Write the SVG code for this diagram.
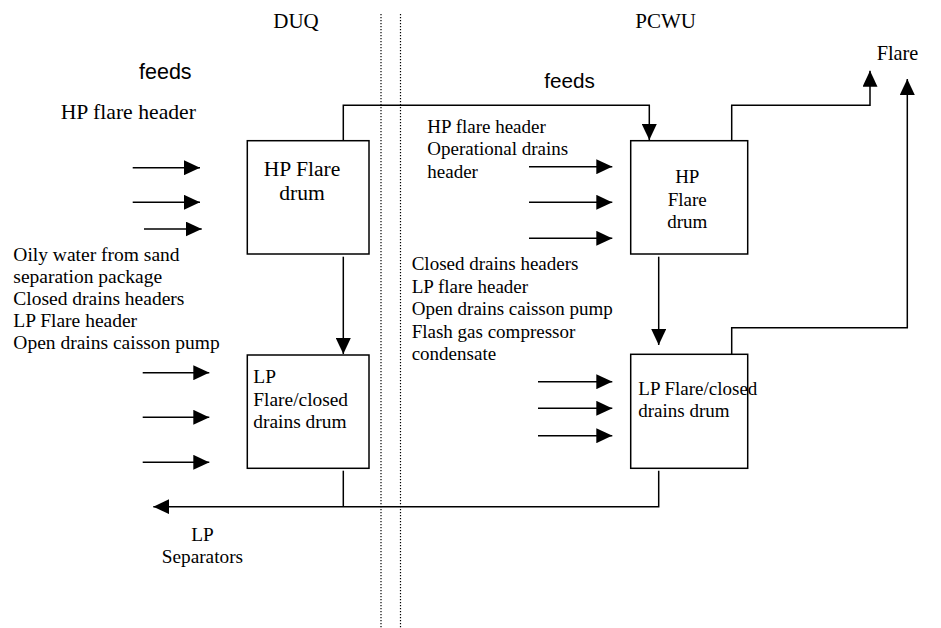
<svg xmlns="http://www.w3.org/2000/svg" width="941" height="628" viewBox="0 0 941 628">
<style>
.t{font-family:"Liberation Serif","Times New Roman",serif;fill:#000}
.s{font-family:"Liberation Sans",Arial,sans-serif;fill:#000}
.box{fill:#fff;stroke:#000;stroke-width:1.5}
.ln{fill:none;stroke:#000;stroke-width:1.5}
.dot{fill:none;stroke:#000;stroke-width:1.2;stroke-dasharray:1.2 1.8}
</style>
<defs>
<marker id="ah" viewBox="0 0 16 15" refX="16" refY="7.5" markerWidth="16" markerHeight="15" markerUnits="userSpaceOnUse" orient="auto">
<path d="M0,0 L16,7.5 L0,15 z" fill="#000"/>
</marker>
</defs>
<rect width="941" height="628" fill="#fff"/>
<g id="boundary">
<line class="dot" x1="381" y1="14" x2="381" y2="628"/>
<line class="dot" x1="400.5" y1="14" x2="400.5" y2="628"/>
</g>
<g id="labels">
<text class="t" x="296" y="28" font-size="21" text-anchor="middle">DUQ</text>
<text class="t" x="665.7" y="28.3" font-size="21" text-anchor="middle">PCWU</text>
<text class="s" x="139" y="79" font-size="21.5">feeds</text>
<text class="s" x="544.3" y="88.3" font-size="20.7">feeds</text>
<text class="t" x="876.7" y="60" font-size="20.3">Flare</text>
<text class="t" x="60.7" y="119" font-size="21.7">HP flare header</text>
<g class="t" font-size="19.5">
<text x="13.3" y="260.5">Oily water from sand</text>
<text x="13.3" y="282.7">separation package</text>
<text x="13.3" y="304.8">Closed drains headers</text>
<text x="13.3" y="327">LP Flare header</text>
<text x="13.3" y="349.1">Open drains caisson pump</text>
</g>
<g class="t" font-size="19">
<text x="427.3" y="132.7">HP flare header</text>
<text x="427.3" y="155.2">Operational drains</text>
<text x="427.3" y="177.7">header</text>
</g>
<g class="t" font-size="19">
<text x="411.7" y="270.3">Closed drains headers</text>
<text x="411.7" y="292.8">LP flare header</text>
<text x="411.7" y="315.3">Open drains caisson pump</text>
<text x="411.7" y="337.8">Flash gas compressor</text>
<text x="411.7" y="360.3">condensate</text>
</g>
<g class="t" font-size="19.3" text-anchor="middle">
<text x="202.4" y="540.7">LP</text>
<text x="202.4" y="563.3">Separators</text>
</g>
</g>
<g id="duq-hp-drum">
<rect class="box" x="247.3" y="140.7" width="121.7" height="113.3"/>
<text class="t" font-size="21.6" text-anchor="middle"><tspan x="302" y="175.7">HP Flare</tspan><tspan x="302" y="200">drum</tspan></text>
</g>
<g id="duq-lp-drum">
<rect class="box" x="247.3" y="355" width="121.7" height="113.3"/>
<text class="t" font-size="19.4"><tspan x="253.3" y="383.3">LP</tspan><tspan x="253.3" y="406">Flare/closed</tspan><tspan x="253.3" y="428.3">drains drum</tspan></text>
</g>
<g id="pcwu-hp-drum">
<rect class="box" x="630.7" y="140.7" width="117" height="113.3"/>
<text class="t" font-size="19" text-anchor="middle"><tspan x="687.3" y="183.3">HP</tspan><tspan x="687.3" y="205.5">Flare</tspan><tspan x="687.3" y="227.7">drum</tspan></text>
</g>
<g id="pcwu-lp-drum">
<rect class="box" x="630.7" y="354.3" width="117" height="114"/>
<text class="t" font-size="19"><tspan x="638.3" y="395">LP Flare/closed</tspan><tspan x="638.3" y="417.3">drains drum</tspan></text>
</g>
<g id="connectors">
<path class="ln" d="M132.7,167.7 H200" marker-end="url(#ah)"/>
<path class="ln" d="M132.7,202.3 H200" marker-end="url(#ah)"/>
<path class="ln" d="M144,229 H201.7" marker-end="url(#ah)"/>
<path class="ln" d="M142.7,372.7 H209.3" marker-end="url(#ah)"/>
<path class="ln" d="M142.7,417.3 H209.3" marker-end="url(#ah)"/>
<path class="ln" d="M142.7,462.3 H209.3" marker-end="url(#ah)"/>
<path class="ln" d="M529,166.7 H612.3" marker-end="url(#ah)"/>
<path class="ln" d="M529,202.3 H612.3" marker-end="url(#ah)"/>
<path class="ln" d="M529,238.3 H612.3" marker-end="url(#ah)"/>
<path class="ln" d="M538,381.7 H612.3" marker-end="url(#ah)"/>
<path class="ln" d="M538,408.3 H612.3" marker-end="url(#ah)"/>
<path class="ln" d="M538,435.7 H612.3" marker-end="url(#ah)"/>
<path class="ln" d="M343.3,140.7 V105.3 H649.3 V140" marker-end="url(#ah)"/>
<path class="ln" d="M343.3,256.7 V354" marker-end="url(#ah)"/>
<path class="ln" d="M658.7,256.7 V345" marker-end="url(#ah)"/>
<path class="ln" d="M731.7,140.7 V105.3 H870 V70.7" marker-end="url(#ah)"/>
<path class="ln" d="M731.7,354.3 V327.7 H907.3 V79" marker-end="url(#ah)"/>
<path class="ln" d="M343.3,470.7 V506.7"/>
<path class="ln" d="M658.7,470.7 V506.7 H153.3" marker-end="url(#ah)"/>
</g>
</svg>
